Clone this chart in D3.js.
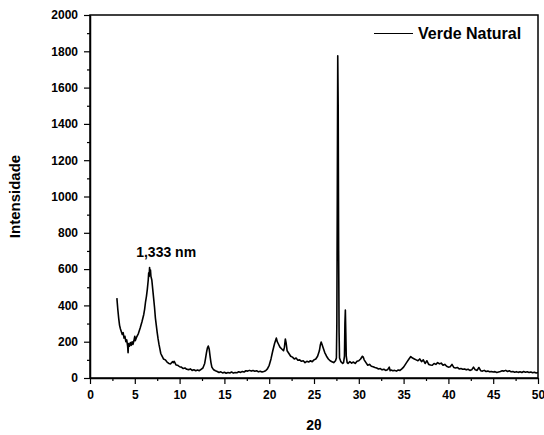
<!DOCTYPE html>
<html>
<head>
<meta charset="utf-8">
<script src="https://cdnjs.cloudflare.com/ajax/libs/d3/7.8.5/d3.min.js"></script>
<style>
  body { margin: 0; background: #fff; }
  text { font-family: Arial, "Liberation Sans", sans-serif; font-weight: bold; }
</style>
</head>
<body>
<div id="chart"></div>
<script>
// XRD pattern: [2theta, intensity]
var verdeNatural = [
  [3.0,440],[3.1,380],[3.2,330],[3.3,290],[3.4,270],[3.5,255],[3.6,240],[3.7,250],[3.8,220],[3.9,230],
  [4.0,200],[4.1,210],[4.2,175],[4.25,140],[4.3,190],[4.4,175],[4.5,195],[4.6,180],[4.7,200],[4.8,185],
  [4.9,205],[5.0,230],[5.05,205],[5.2,225],[5.4,245],[5.6,275],[5.8,310],[6.0,350],[6.1,380],[6.2,420],
  [6.3,450],[6.4,490],[6.5,540],[6.55,580],[6.6,560],[6.65,608],[6.7,570],[6.75,595],[6.8,560],[6.9,540],
  [7.0,490],[7.1,440],[7.2,390],[7.3,330],[7.4,290],[7.5,250],[7.6,215],[7.7,185],[7.8,160],[7.9,135],
  [8.0,125],[8.2,105],[8.4,100],[8.6,88],[8.8,80],[9.0,78],[9.2,90],[9.3,85],[9.4,92],[9.6,72],
  [9.8,70],[10.0,62],[10.2,60],[10.4,52],[10.6,55],[10.8,48],[11.0,46],[11.2,50],[11.4,42],[11.6,45],
  [11.8,40],[12.0,44],[12.2,40],[12.4,48],[12.6,55],[12.8,80],[12.9,110],[13.0,140],[13.1,165],[13.2,176],
  [13.3,160],[13.4,120],[13.5,85],[13.6,60],[13.8,45],[14.0,40],[14.2,36],[14.4,30],[14.6,34],[14.8,28],
  [15.0,32],[15.2,26],[15.4,30],[15.6,28],[15.8,33],[16.0,27],[16.2,30],[16.4,29],[16.6,34],[16.8,31],
  [17.0,36],[17.2,33],[17.4,40],[17.6,38],[17.8,42],[18.0,38],[18.2,41],[18.4,37],[18.6,40],[18.8,34],
  [19.0,37],[19.2,33],[19.4,36],[19.6,40],[19.8,50],[20.0,70],[20.2,105],[20.4,150],[20.6,190],[20.7,205],
  [20.8,220],[20.9,200],[21.0,190],[21.2,170],[21.4,160],[21.6,150],[21.7,170],[21.8,215],[21.9,190],[22.0,150],
  [22.2,135],[22.4,120],[22.6,115],[22.8,105],[23.0,110],[23.2,98],[23.4,100],[23.6,92],[23.8,95],[24.0,85],
  [24.2,92],[24.4,88],[24.6,95],[24.8,90],[25.0,100],[25.2,105],[25.4,120],[25.6,150],[25.7,180],[25.8,198],
  [25.9,185],[26.0,170],[26.2,140],[26.4,120],[26.6,105],[26.8,95],[27.0,90],[27.2,85],[27.4,95],[27.5,110],
  [27.55,300],[27.6,1000],[27.65,1775],[27.7,1500],[27.75,700],[27.8,250],[27.85,110],[28.0,90],[28.2,80],[28.3,85],
  [28.4,120],[28.45,300],[28.5,375],[28.55,250],[28.6,120],[28.7,85],[28.8,80],[29.0,90],[29.2,82],[29.4,88],
  [29.6,80],[29.8,92],[30.0,95],[30.2,105],[30.4,120],[30.5,115],[30.6,100],[30.8,85],[31.0,70],[31.2,75],
  [31.4,65],[31.6,62],[31.8,58],[32.0,55],[32.2,50],[32.4,52],[32.6,45],[32.8,48],[33.0,42],[33.2,45],
  [33.4,60],[33.5,40],[33.6,44],[33.8,40],[34.0,42],[34.2,38],[34.4,44],[34.6,42],[34.8,50],[35.0,60],
  [35.2,75],[35.4,90],[35.6,105],[35.8,118],[36.0,110],[36.2,105],[36.4,100],[36.6,95],[36.8,105],[37.0,90],
  [37.2,100],[37.4,80],[37.6,95],[37.8,75],[38.0,72],[38.2,70],[38.4,80],[38.6,75],[38.8,85],[39.0,78],
  [39.2,82],[39.4,70],[39.6,75],[39.8,65],[40.0,60],[40.2,62],[40.4,75],[40.6,58],[40.8,55],[41.0,58],
  [41.2,50],[41.4,52],[41.6,48],[41.8,50],[42.0,45],[42.2,48],[42.4,42],[42.6,45],[42.8,60],[43.0,45],
  [43.2,42],[43.4,58],[43.6,40],[43.8,38],[44.0,42],[44.2,36],[44.4,38],[44.6,34],[44.8,36],[45.0,33],
  [45.2,35],[45.4,30],[45.6,33],[45.8,36],[46.0,40],[46.2,38],[46.4,42],[46.6,36],[46.8,40],[47.0,34],
  [47.2,36],[47.4,32],[47.6,35],[47.8,31],[48.0,34],[48.2,30],[48.4,36],[48.6,32],[48.8,34],[49.0,30],
  [49.2,33],[49.4,29],[49.6,32],[49.8,28],[50.0,30]
];
var xTicks = [0, 5, 10, 15, 20, 25, 30, 35, 40, 45, 50];
var yTicks = [0, 200, 400, 600, 800, 1000, 1200, 1400, 1600, 1800, 2000];
var seriesName = "Verde Natural";
var peakLabel = { x: 8.5, y: 665, text: "1,333 nm" };

var W = 544, H = 435;
var margin = {top: 15, right: 6, bottom: 57, left: 90},
    width = W - margin.left - margin.right,
    height = H - margin.top - margin.bottom;

var svg = d3.select("#chart").append("svg")
    .attr("width", W).attr("height", H)
  .append("g")
    .attr("transform", "translate(" + margin.left + "," + margin.top + ")");

var x = d3.scaleLinear().domain([0, 50]).range([0, width]);
var y = d3.scaleLinear().domain([0, 2000]).range([height, 0]);

// minor ticks
svg.append("g")
    .attr("transform", "translate(0," + height + ")")
    .call(d3.axisBottom(x).tickValues(d3.range(2.5, 50, 5)).tickSize(3).tickFormat(""))
    .call(g => g.select(".domain").remove());
svg.append("g")
    .call(d3.axisLeft(y).tickValues(d3.range(100, 2000, 200)).tickSize(3).tickFormat(""))
    .call(g => g.select(".domain").remove());

// major axes
var xAxis = svg.append("g")
    .attr("transform", "translate(0," + height + ")")
    .call(d3.axisBottom(x).tickValues(xTicks).tickSize(6).tickSizeOuter(0).tickPadding(6).tickFormat(d3.format("d")));
xAxis.selectAll("text").style("font-size", "12px");

var yAxis = svg.append("g")
    .call(d3.axisLeft(y).tickValues(yTicks).tickSize(6).tickSizeOuter(0).tickPadding(6).tickFormat(d3.format("d")));
yAxis.selectAll("text").style("font-size", "12px");

svg.selectAll(".domain").attr("stroke-width", 1.5);
svg.selectAll(".tick line").attr("stroke-width", 1.2);

// frame
svg.append("rect")
    .attr("width", width).attr("height", height)
    .attr("fill", "none").attr("stroke", "#000").attr("stroke-width", 1.5);

// pattern
var line = d3.line()
    .x(function(d) { return x(d[0]); })
    .y(function(d) { return y(d[1]); });
svg.append("path")
    .datum(verdeNatural)
    .attr("fill", "none")
    .attr("stroke", "#000")
    .attr("stroke-width", 1.6)
    .attr("stroke-linejoin", "round")
    .attr("d", line);

// annotation
svg.append("text")
    .attr("x", x(peakLabel.x)).attr("y", y(peakLabel.y))
    .attr("text-anchor", "middle")
    .style("font-size", "14px")
    .text(peakLabel.text);

// legend
svg.append("line")
    .attr("x1", 284).attr("x2", 323).attr("y1", 18.5).attr("y2", 18.5)
    .attr("stroke", "#000").attr("stroke-width", 1);
svg.append("text")
    .attr("x", 328).attr("y", 24)
    .style("font-size", "16px")
    .text(seriesName);

// axis titles
svg.append("text")
    .attr("x", width / 2).attr("y", height + 52)
    .attr("text-anchor", "middle")
    .style("font-size", "14px")
    .text("2θ");
svg.append("text")
    .attr("transform", "translate(-70," + (height / 2) + ")rotate(-90)")
    .attr("text-anchor", "middle")
    .style("font-size", "15px")
    .text("Intensidade");
</script>
</body>
</html>
